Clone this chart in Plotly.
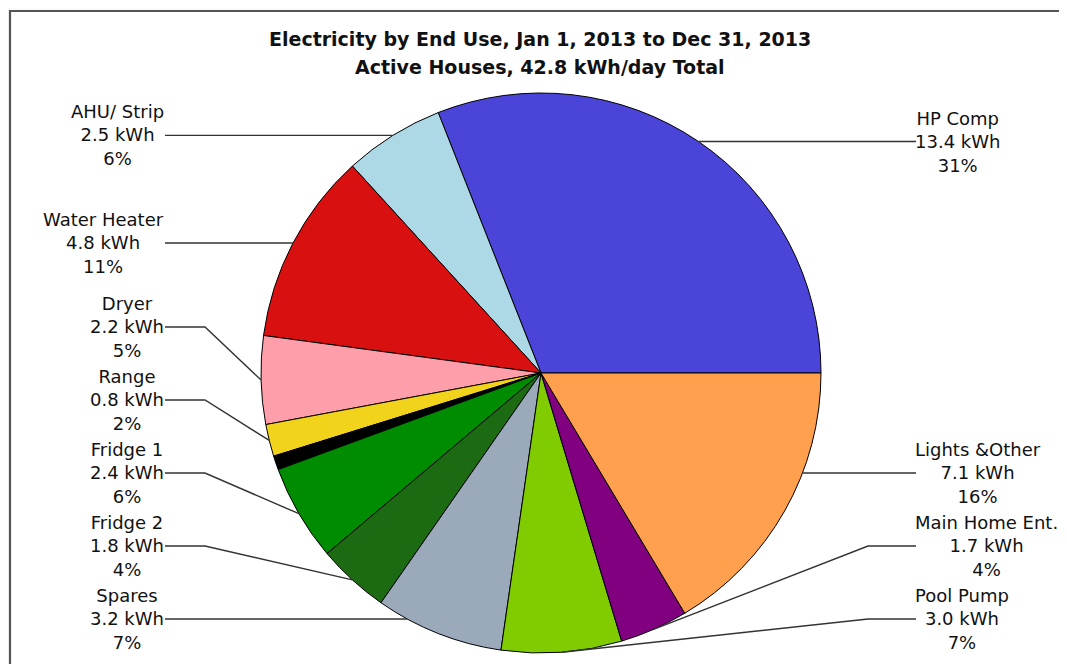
import math
import plotly.graph_objects as go

# ---------------- data ----------------
slice_names = ["HP Comp", "AHU/ Strip", "Water Heater", "Dryer", "Range", "Other",
               "Fridge 1", "Fridge 2", "Spares", "Pool Pump", "Main Home Ent.", "Lights &Other"]
kwh_per_day = [13.4, 2.5, 4.8, 2.2, 0.8, 0.35, 2.4, 1.8, 3.2, 3.0, 1.7, 7.1]
show_label = [True, True, True, True, True, False, True, True, True, True, True, True]
slice_colors = ["#4a44d8", "#add8e6", "#d81010", "#ff9eab", "#f2d31c", "#000000",
                "#008c00", "#1c6a12", "#9aaabb", "#80cc00", "#800080", "#ffa04e"]
title_lines = ["Electricity by End Use, Jan 1, 2013 to Dec 31, 2013",
               "Active Houses, 42.8 kWh/day Total"]

# ---------------- layout geometry (page pixels) ----------------
OFF = 8                      # default body margin of the html page
W, H = 1067 - OFF, 664 - OFF  # figure size
CX, CY, R = 541, 373, 280
GAP = 73          # vertical spacing between stacked labels
YMIN, YMAX = 120, 619
LEFT_TEXT_X, LEFT_ELBOW_X = 165, 205
RIGHT_TEXT_X, RIGHT_ELBOW_X = 916, 868
LABEL_FONT = dict(family="DejaVu Sans", size=18, color="#111111")
TITLE_FONT = dict(family="DejaVu Sans", size=19, color="#111111", weight="bold")
TITLE_X, TITLE_Y, TITLE_DY = 540, 39, 28


def px(x, y):
    """page pixel -> paper coordinates"""
    return (x - OFF) / W, 1 - (y - OFF) / H


total = sum(kwh_per_day)
info = []
start = 0.0
for i, v in enumerate(kwh_per_day):
    a0 = start
    a1 = start + v / total * 360.0
    start = a1
    mid = (a0 + a1) / 2
    mr = math.radians(mid)
    info.append(dict(i=i, a0=a0, a1=a1, mid=mid,
                     mx=CX + R * math.cos(mr), my=CY - R * math.sin(mr),
                     side="right" if math.cos(mr) > 0 else "left"))

# plotly places the first slice clockwise from `rotation` when direction is
# counterclockwise, so shift by the first slice to make it start at 3 o'clock
rot = 90 - kwh_per_day[0] / total * 360.0

dx0, dy1 = px(CX - R, CY - R)
dx1, dy0 = px(CX + R, CY + R)
fig = go.Figure(go.Pie(
    labels=slice_names, values=kwh_per_day, sort=False,
    direction="counterclockwise", rotation=rot,
    marker=dict(colors=slice_colors, line=dict(color="#000000", width=1)),
    textinfo="none", showlegend=False, hoverinfo="label+value+percent",
    domain=dict(x=[dx0, dx1], y=[dy0, dy1]),
))

fx0, fy1 = px(10, 11)
shapes = [dict(type="rect", xref="paper", yref="paper", layer="below",
               x0=fx0, x1=1.05, y0=-0.05, y1=fy1,
               line=dict(color="#555555", width=2.2), fillcolor="#ffffff")]
annotations = []

for side in ("left", "right"):
    group = [d for d in info if d["side"] == side and show_label[d["i"]]]
    group.sort(key=lambda d: d["my"])
    n = len(group)
    ys = [d["my"] for d in group]
    for k in range(n - 1, -1, -1):
        lim = YMAX if k == n - 1 else ys[k + 1] - GAP
        ys[k] = min(ys[k], lim)
    for k in range(n):
        lim = YMIN if k == 0 else ys[k - 1] + GAP
        ys[k] = max(ys[k], lim)
    for d, ly in zip(group, ys):
        i = d["i"]
        s = (CY - ly) / R
        horiz = False
        if abs(s) < 1:
            asn = math.degrees(math.asin(s))
            ang = (180 - asn) if side == "left" else (asn % 360)
            ang %= 360
            if d["a0"] + 3 <= ang <= d["a1"] - 3:
                horiz = True
        dxe = math.sqrt(max(R * R - (ly - CY) ** 2, 0))
        if side == "left":
            tx, ex = LEFT_TEXT_X, LEFT_ELBOW_X
            edge_x = CX - dxe
        else:
            tx, ex = RIGHT_TEXT_X, RIGHT_ELBOW_X
            edge_x = CX + dxe
        if horiz:
            pts = [(tx, ly), (edge_x, ly)]
        else:
            pts = [(tx, ly), (ex, ly), (d["mx"], d["my"])]
        path = "M " + " L ".join("%.5f,%.5f" % px(x, y) for x, y in pts)
        shapes.append(dict(type="path", xref="paper", yref="paper", path=path,
                           line=dict(color="#333333", width=1.4), layer="above"))
        pct = round(kwh_per_day[i] / total * 100)
        txt = "%s<br>%.1f kWh<br>%d%%" % (slice_names[i], kwh_per_day[i], pct)
        axp, ayp = px(tx + 1 if side == "left" else tx - 3, ly)
        annotations.append(dict(
            x=axp, y=ayp, xref="paper", yref="paper", showarrow=False,
            text=txt, align="center", font=LABEL_FONT,
            xanchor="right" if side == "left" else "left", yanchor="middle"))

for k, line in enumerate(title_lines):
    tx_, ty_ = px(TITLE_X, TITLE_Y + k * TITLE_DY)
    annotations.append(dict(x=tx_, y=ty_, xref="paper", yref="paper", showarrow=False,
                            text=line, font=TITLE_FONT, xanchor="center", yanchor="middle"))

fig.update_layout(
    width=W, height=H,
    margin=dict(l=0, r=0, t=0, b=0),
    paper_bgcolor="#fafafa",
    shapes=shapes, annotations=annotations,
)

fig.write_html("out.html")
